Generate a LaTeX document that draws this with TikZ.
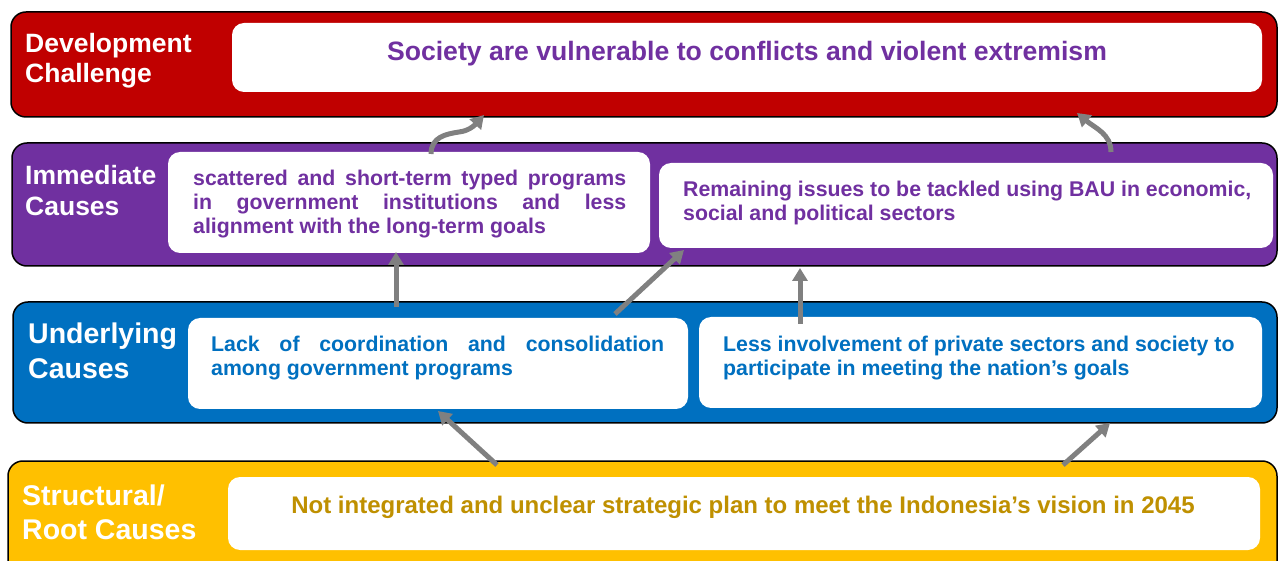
\documentclass[tikz,border=0pt]{standalone}
\usepackage{fontspec}
\setmainfont{Liberation Sans}
\usetikzlibrary{arrows.meta}

\definecolor{devred}{HTML}{C00000}
\definecolor{immpurple}{HTML}{7030A0}
\definecolor{undblue}{HTML}{0070C0}
\definecolor{rootgold}{HTML}{FFC000}
\definecolor{goldtext}{HTML}{BF9000}
\definecolor{arrowgray}{HTML}{808080}

\begin{document}
\begin{tikzpicture}[x=1pt,y=-1pt,
  band/.style={draw=black,line width=1.5pt,rounded corners=15pt},
  panel/.style={fill=white,rounded corners=12pt},
  % multi-line nodes are placed by the baseline of their last line
  tag/.style={anchor=base west,inner sep=0pt,text=white,align=left},
  body/.style={anchor=base west,inner sep=0pt,align=left,
    font=\bfseries\fontsize{21.3}{24.5}\selectfont},
  link/.style={draw=arrowgray,line width=5pt,-{Triangle[width=15pt,length=13pt]}}]

\useasboundingbox (0,0) rectangle (1278,561);
\clip (0,0) rectangle (1278,561);

% level bands
\draw[band,fill=devred]    (11,12)  rectangle (1277,117);
\draw[band,fill=immpurple] (12,143) rectangle (1277,266);
\draw[band,fill=undblue]   (13,302) rectangle (1277,423);
\draw[band,fill=rootgold]  (8,461)  rectangle (1277,590);

% white panels
\fill[panel] (232,23)  rectangle (1262,92);
\fill[panel] (168,152) rectangle (650,253);
\fill[panel] (659,163) rectangle (1273,248);
\fill[panel] (188,318) rectangle (688,409);
\fill[panel] (699,317) rectangle (1262,408);
\fill[panel] (228,477) rectangle (1260,550);

% level titles
\node[tag,font=\bfseries\fontsize{26.5}{29.5}\selectfont] (devtag) at (25,82.5)
  {Development\\Challenge};
\node[tag,font=\bfseries\fontsize{26.5}{31}\selectfont] (immtag) at (25,216)
  {Immediate\\Causes};
\node[tag,font=\bfseries\fontsize{28.5}{35}\selectfont] (undtag) at (28,379)
  {Underlying\\Causes};
\node[tag,font=\bfseries\fontsize{28.5}{34}\selectfont] (roottag) at (22,539)
  {Structural/\\Root Causes};

% statements
\node[anchor=base,inner sep=0pt,text=immpurple,
      font=\bfseries\fontsize{26.6}{30}\selectfont] (challenge) at (747,61)
  {Society are vulnerable to conflicts and violent extremism};

\node[body,text=immpurple,font=\bfseries\fontsize{21.3}{24}\selectfont]
  (immA) at (193,233.5)
  {\makebox[433pt][s]{scattered and short-term typed programs}\\
   \makebox[433pt][s]{in government institutions and less}\\
   alignment with the long-term goals};
\node[body,text=immpurple] (immB) at (683,221)
  {Remaining issues to be tackled using BAU in economic,\\
   social and political sectors};

\node[body,text=undblue] (undA) at (211,376)
  {\makebox[453pt][s]{Lack of coordination and consolidation}\\
   among government programs};
\node[body,text=undblue] (undB) at (723,375.5)
  {Less involvement of private sectors and society to\\
   participate in meeting the nation’s goals};

\node[anchor=base,inner sep=0pt,text=goldtext,
      font=\bfseries\fontsize{24}{28}\selectfont] (rootA) at (743,513)
  {Not integrated and unclear strategic plan to meet the Indonesia’s vision in 2045};

% arrow ends
\coordinate (l1s) at (431,154);  \coordinate (l1e) at (484,115);
\coordinate (l2s) at (1111,152); \coordinate (l2e) at (1077,113);
\coordinate (l3s) at (396,307);  \coordinate (l3e) at (396,252);
\coordinate (l4s) at (615,314);  \coordinate (l4e) at (684,250);
\coordinate (l5s) at (800,324);  \coordinate (l5e) at (800,268);
\coordinate (l6s) at (497,465);  \coordinate (l6e) at (438,411);
\coordinate (l7s) at (1063,465); \coordinate (l7e) at (1110,423);

% causal arrows
\draw[link] (l1s) .. controls (431,137) and (446,134) .. (459,132)
                  .. controls (468,131) and (474,126) .. (l1e);
\draw[link] (l2s) .. controls (1111,134) and (1095,128) .. (l2e);
\draw[link] (l3s) -- (l3e);
\draw[link] (l4s) -- (l4e);
\draw[link] (l5s) -- (l5e);
\draw[link] (l6s) -- (l6e);
\draw[link] (l7s) -- (l7e);

\end{tikzpicture}
\end{document}
